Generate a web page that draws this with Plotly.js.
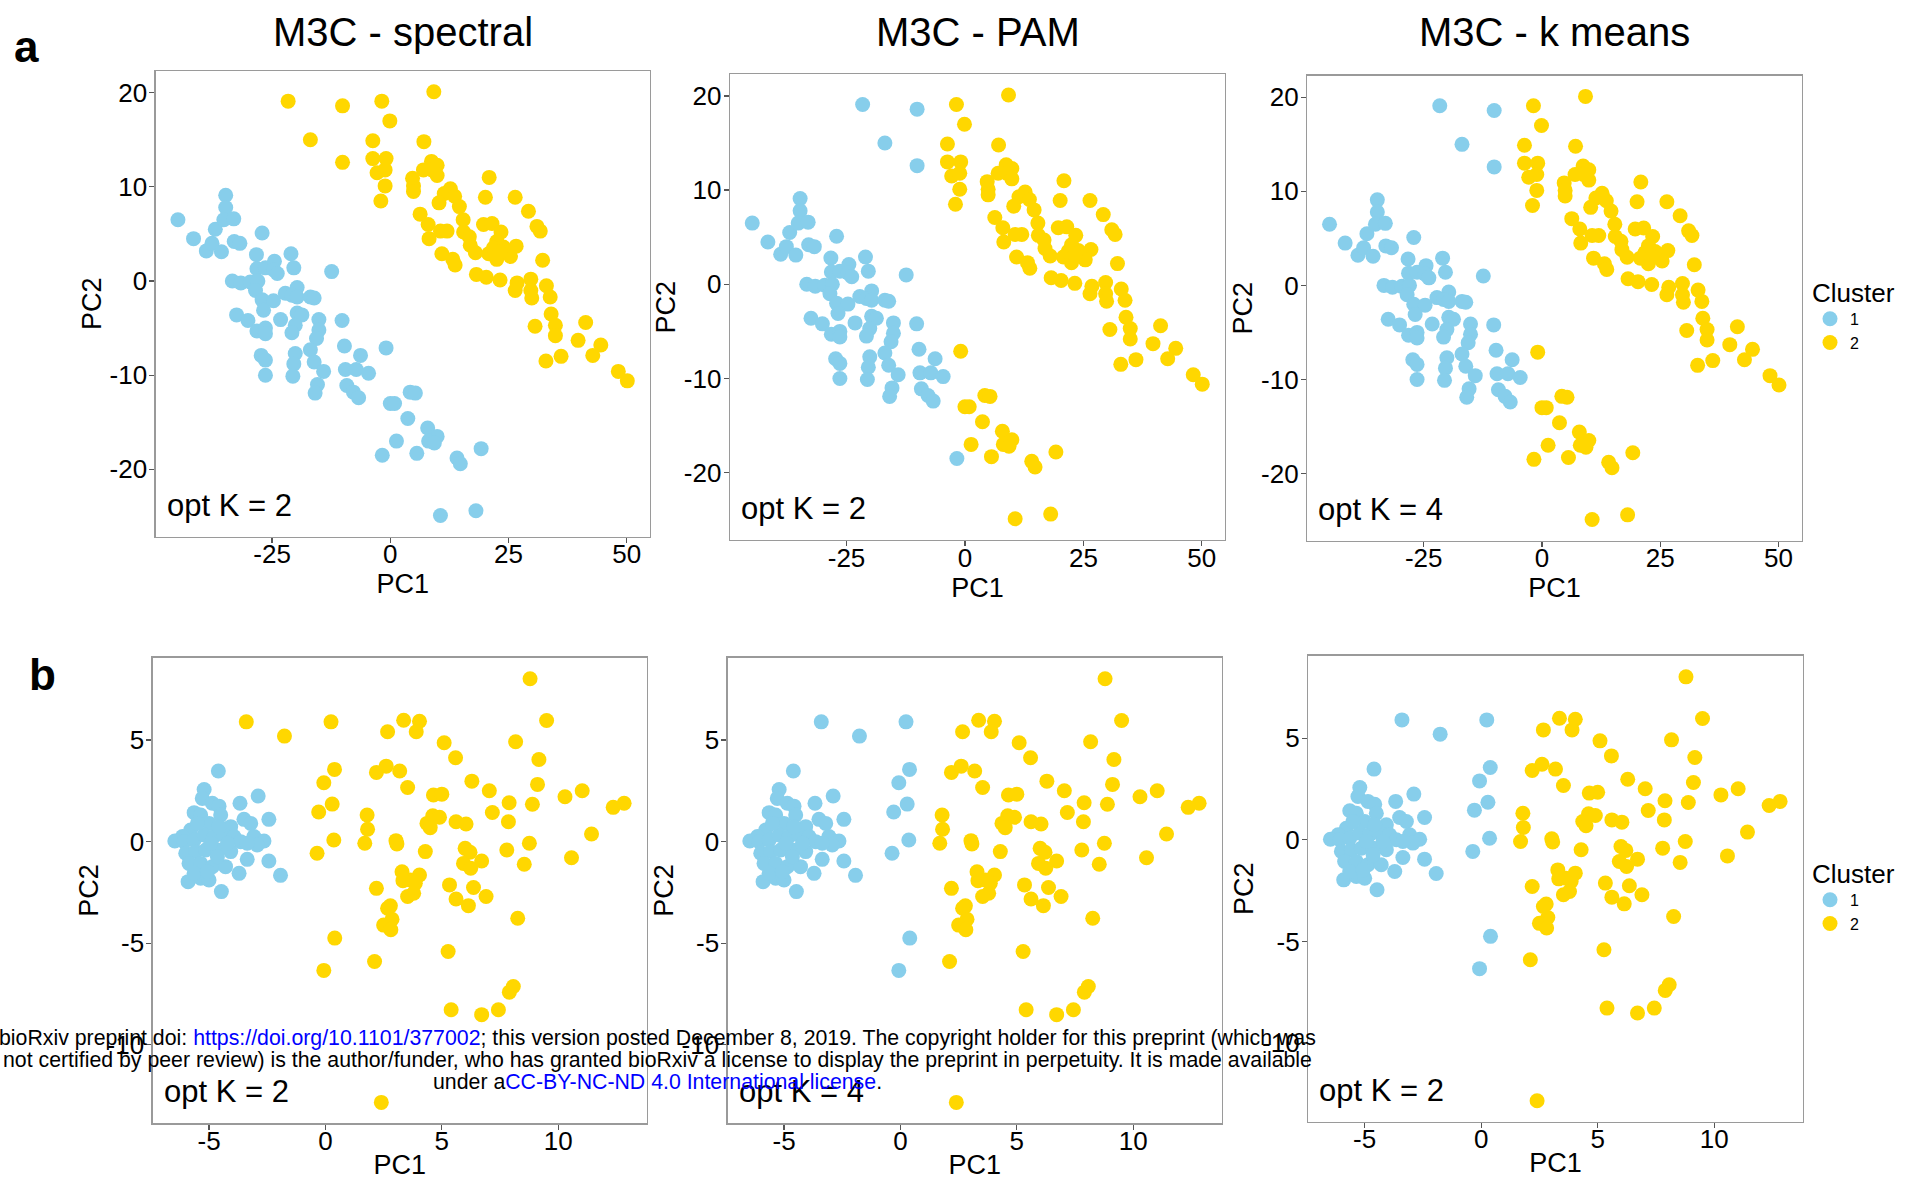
<!DOCTYPE html>
<html>
<head>
<meta charset="utf-8">
<script src="https://cdn.plot.ly/plotly-3.0.1.min.js"></script>
<style>html,body{margin:0;padding:0;background:#fff;}#chart{width:1928px;height:1190px;}</style>
</head>
<body>
<div id="chart"></div>
<script>
// ---------------- Row a data (PCA of dataset a) ----------------
// groups in order: B(69) L(17) P(1) U(4) Y(77)
const pcA_x = [
  // B
  -44.9,-41.6,-38.9,-37.7,-35.7,-37.0,-34.8,-34.8,-35.2,-33.1,
  -33.0,-31.8,-27.1,-28.3,-28.2,-26.4,-24.5,-24.7,-23.9,-21.0,
  -20.4,-12.4,-33.4,-31.6,-29.6,-28.0,-28.5,-27.1,-24.7,-26.8,
  -22.2,-19.7,-20.8,-19.7,-16.9,-16.1,-32.5,-30.1,-23.2,-19.7,
  -18.7,-20.1,-28.2,-26.4,-26.4,-20.8,-15.1,-15.1,-15.6,-16.9,
  -10.2,-9.7,-6.3,-27.3,-26.4,-20.1,-20.4,-16.1,-14.1,-26.4,
  -20.6,-9.5,-7.2,-4.6,-15.4,-15.9,-9.2,-7.8,-6.7,
  // L
  -0.9,4.2,5.3,0.0,0.9,3.7,7.9,9.9,8.1,9.3,
  1.3,5.6,14.1,14.8,19.2,10.6,18.1,
  // P
  -1.7,
  // U
  -21.6,-10.1,-16.9,-10.1,
  // Y
  -1.8,9.2,-0.1,-3.7,7.1,-3.7,-0.9,-2.8,-1.1,-1.1,
  -2.0,8.7,9.9,7.0,8.8,9.9,20.9,4.7,4.9,4.9,
  12.7,11.4,13.6,10.3,14.6,20.1,26.4,29.2,6.3,8.0,
  15.4,19.7,21.5,31.0,31.7,10.6,12.0,8.2,15.5,16.7,
  23.4,16.9,22.5,23.9,26.6,10.9,18.0,20.8,22.5,25.4,
  13.2,13.7,32.2,18.2,20.3,23.2,26.8,26.4,29.7,29.7,
  29.9,33.0,33.8,34.0,34.9,34.9,30.6,41.3,39.7,44.5,
  42.8,32.9,36.1,48.2,50.1,21.8,23.2
];
const pcA_y = [
  // B
  6.5,4.5,3.2,4.0,3.1,5.5,9.1,7.8,6.5,6.6,
  4.2,4.0,5.1,2.8,1.3,1.4,2.1,1.2,0.8,2.9,
  1.4,1.0,0.0,-0.2,-0.1,0.0,-1.0,-2.0,-2.1,-3.1,
  -1.3,-0.7,-1.5,-1.7,-1.7,-1.8,-3.6,-4.2,-4.1,-3.4,
  -3.6,-4.7,-5.3,-5.0,-5.6,-5.5,-4.1,-5.2,-6.1,-7.3,
  -4.2,-6.9,-7.9,-7.9,-8.4,-7.7,-8.8,-8.6,-9.6,-10.0,
  -10.1,-9.4,-9.4,-9.8,-11.0,-11.9,-11.1,-11.8,-12.4,
  // L
  -7.1,-11.8,-11.9,-13.0,-13.0,-14.6,-15.6,-16.5,-17.0,-17.2,
  -17.0,-18.3,-18.8,-19.4,-17.8,-24.9,-24.4,
  // P
  -18.5,
  // U
  19.1,18.6,15.0,12.6,
  // Y
  19.1,20.1,17.0,14.9,14.8,13.0,13.0,11.5,11.8,10.1,
  8.5,12.7,12.3,11.8,11.8,11.2,11.0,10.9,10.1,9.5,
  9.8,9.3,9.0,8.3,7.9,8.9,8.9,7.4,7.1,6.0,
  6.5,6.0,6.1,5.8,5.3,5.3,5.3,4.5,5.2,4.7,
  5.2,3.8,4.2,3.6,3.7,2.9,3.0,2.9,2.3,2.6,
  2.3,1.7,2.2,0.7,0.4,0.1,-0.2,-1.0,0.2,-1.0,
  -1.8,-0.5,-1.7,-3.5,-4.7,-5.8,-4.8,-4.4,-6.3,-6.8,
  -7.9,-8.5,-8.0,-9.6,-10.6,3.5,3.1
];
const clusterA_spectral = [
  1,1,1,1,1,1,1,1,1,1, 1,1,1,1,1,1,1,1,1,1, 1,1,1,1,1,1,1,1,1,1,
  1,1,1,1,1,1,1,1,1,1, 1,1,1,1,1,1,1,1,1,1, 1,1,1,1,1,1,1,1,1,1,
  1,1,1,1,1,1,1,1,1,
  1,1,1,1,1,1,1,1,1,1, 1,1,1,1,1,1,1,
  1,
  2,2,2,2,
  2,2,2,2,2,2,2,2,2,2, 2,2,2,2,2,2,2,2,2,2, 2,2,2,2,2,2,2,2,2,2,
  2,2,2,2,2,2,2,2,2,2, 2,2,2,2,2,2,2,2,2,2, 2,2,2,2,2,2,2,2,2,2,
  2,2,2,2,2,2,2,2,2,2, 2,2,2,2,2,2,2
];
const clusterA_pam = [
  1,1,1,1,1,1,1,1,1,1, 1,1,1,1,1,1,1,1,1,1, 1,1,1,1,1,1,1,1,1,1,
  1,1,1,1,1,1,1,1,1,1, 1,1,1,1,1,1,1,1,1,1, 1,1,1,1,1,1,1,1,1,1,
  1,1,1,1,1,1,1,1,1,
  2,2,2,2,2,2,2,2,2,2, 2,2,2,2,2,2,2,
  1,
  1,1,1,1,
  2,2,2,2,2,2,2,2,2,2, 2,2,2,2,2,2,2,2,2,2, 2,2,2,2,2,2,2,2,2,2,
  2,2,2,2,2,2,2,2,2,2, 2,2,2,2,2,2,2,2,2,2, 2,2,2,2,2,2,2,2,2,2,
  2,2,2,2,2,2,2,2,2,2, 2,2,2,2,2,2,2
];
const clusterA_kmeans = [
  1,1,1,1,1,1,1,1,1,1, 1,1,1,1,1,1,1,1,1,1, 1,1,1,1,1,1,1,1,1,1,
  1,1,1,1,1,1,1,1,1,1, 1,1,1,1,1,1,1,1,1,1, 1,1,1,1,1,1,1,1,1,1,
  1,1,1,1,1,1,1,1,1,
  2,2,2,2,2,2,2,2,2,2, 2,2,2,2,2,2,2,
  2,
  1,1,1,1,
  2,2,2,2,2,2,2,2,2,2, 2,2,2,2,2,2,2,2,2,2, 2,2,2,2,2,2,2,2,2,2,
  2,2,2,2,2,2,2,2,2,2, 2,2,2,2,2,2,2,2,2,2, 2,2,2,2,2,2,2,2,2,2,
  2,2,2,2,2,2,2,2,2,2, 2,2,2,2,2,2,2
];

// ---------------- Row b data (PCA of dataset b) ----------------
// groups in order: C(53) S(11) Y(76)
const pcB_x = [
  // C
  -4.60,-5.21,-5.29,-4.86,-4.57,-5.64,-5.36,-4.50,-3.67,-2.89,
  -2.43,-3.50,-3.21,-4.07,-5.00,-5.79,-6.14,-6.47,-6.07,-5.64,
  -5.21,-4.79,-4.36,-3.93,-3.64,-3.07,-2.64,-2.93,-3.36,-6.00,
  -5.57,-5.14,-4.64,-4.07,-5.86,-5.36,-4.86,-4.29,-3.36,-2.43,
  -3.71,-1.93,-5.90,-5.36,-5.00,-4.47,-5.64,-5.07,-4.64,-4.93,
  -5.50,-4.21,-4.57,
  // S
  -3.40,-1.76,0.24,0.39,-0.07,0.29,-0.29,0.36,-0.36,0.40,-0.07,
  // Y
  8.79,3.36,4.04,2.67,3.90,9.50,5.10,8.17,5.59,9.17,
  2.19,2.61,3.19,3.53,6.29,7.04,4.64,5.00,9.11,7.89,
  8.89,10.29,11.03,12.36,12.83,1.79,1.81,1.69,4.61,4.90,
  5.61,6.04,7.17,7.86,4.36,4.50,3.03,3.07,4.29,6.00,
  6.21,7.79,8.76,11.43,10.57,8.54,6.71,5.93,6.24,3.29,
  4.04,3.64,3.33,3.86,3.79,3.53,2.19,5.33,6.36,5.61,
  6.14,6.90,2.79,2.67,2.86,2.50,2.81,8.26,5.27,2.11,
  8.07,7.90,5.40,6.71,7.43,2.40
];
const pcB_y = [
  // C
  3.48,2.57,2.13,1.89,1.75,1.43,1.31,1.31,1.89,2.25,
  1.10,1.10,0.90,0.74,0.90,0.57,0.25,0.03,0.00,0.08,
  0.33,0.25,0.33,0.25,0.00,0.25,0.03,-0.16,-0.08,-0.57,
  -0.49,-0.41,-0.41,-0.49,-1.07,-1.07,-1.23,-1.23,-0.87,-0.95,
  -1.56,-1.66,-1.97,-1.80,-1.89,-2.46,-1.56,-1.48,-0.74,-0.08,
  0.90,-0.08,0.74,
  // S
  5.90,5.20,5.90,3.56,2.90,1.85,1.46,0.08,-0.57,-4.75,-6.34,
  // Y
  8.02,5.98,5.93,5.41,5.41,5.97,4.87,4.92,4.13,4.05,
  3.41,3.72,3.48,2.67,2.98,2.51,2.30,2.34,2.82,1.92,
  1.84,2.21,2.51,1.69,1.89,1.31,0.61,-0.08,1.28,1.20,
  0.98,0.87,1.44,0.98,0.90,0.69,0.05,-0.11,-0.49,-0.33,
  -0.52,-0.41,-0.08,0.38,-0.79,-1.11,-0.95,-1.07,-1.31,-1.48,
  -1.64,-1.89,-1.92,-2.05,-2.54,-2.70,-2.30,-2.13,-2.26,-2.82,
  -3.15,-2.70,-3.16,-3.28,-3.82,-4.11,-4.34,-3.77,-5.41,-5.90,
  -7.13,-7.41,-8.28,-8.52,-8.28,-12.84
];
const clusterB_spectral = [
  1,1,1,1,1,1,1,1,1,1, 1,1,1,1,1,1,1,1,1,1, 1,1,1,1,1,1,1,1,1,1,
  1,1,1,1,1,1,1,1,1,1, 1,1,1,1,1,1,1,1,1,1, 1,1,1,
  2,2,2,2,2,2,2,2,2,2,2,
  2,2,2,2,2,2,2,2,2,2, 2,2,2,2,2,2,2,2,2,2, 2,2,2,2,2,2,2,2,2,2,
  2,2,2,2,2,2,2,2,2,2, 2,2,2,2,2,2,2,2,2,2, 2,2,2,2,2,2,2,2,2,2,
  2,2,2,2,2,2,2,2,2,2, 2,2,2,2,2,2
];
const clusterB_pam = [
  1,1,1,1,1,1,1,1,1,1, 1,1,1,1,1,1,1,1,1,1, 1,1,1,1,1,1,1,1,1,1,
  1,1,1,1,1,1,1,1,1,1, 1,1,1,1,1,1,1,1,1,1, 1,1,1,
  1,1,1,1,1,1,1,1,1,1,1,
  2,2,2,2,2,2,2,2,2,2, 2,2,2,2,2,2,2,2,2,2, 2,2,2,2,2,2,2,2,2,2,
  2,2,2,2,2,2,2,2,2,2, 2,2,2,2,2,2,2,2,2,2, 2,2,2,2,2,2,2,2,2,2,
  2,2,2,2,2,2,2,2,2,2, 2,2,2,2,2,2
];
const clusterB_kmeans = [
  1,1,1,1,1,1,1,1,1,1, 1,1,1,1,1,1,1,1,1,1, 1,1,1,1,1,1,1,1,1,1,
  1,1,1,1,1,1,1,1,1,1, 1,1,1,1,1,1,1,1,1,1, 1,1,1,
  1,1,1,1,1,1,1,1,1,1,1,
  2,2,2,2,2,2,2,2,2,2, 2,2,2,2,2,2,2,2,2,2, 2,2,2,2,2,2,2,2,2,2,
  2,2,2,2,2,2,2,2,2,2, 2,2,2,2,2,2,2,2,2,2, 2,2,2,2,2,2,2,2,2,2,
  2,2,2,2,2,2,2,2,2,2, 2,2,2,2,2,2
];

// ---------------- Labels ----------------
const panelTitles = ["M3C - spectral", "M3C - PAM", "M3C - k means"];
const optK_a = [2, 2, 4];
const optK_b = [2, 4, 2];
const clusterNames = ["1", "2"];
const tickValsAx = [-25, 0, 25, 50];
const tickTextAx = ["-25", "0", "25", "50"];
const tickValsAy = [-20, -10, 0, 10, 20];
const tickTextAy = ["-20", "-10", "0", "10", "20"];
const tickValsBx = [-5, 0, 5, 10];
const tickTextBx = ["-5", "0", "5", "10"];
const tickValsBy = [-10, -5, 0, 5];
const tickTextBy = ["-10", "-5", "0", "5"];

// ---------------- Styling ----------------
const FONT = '"Liberation Sans", Arial, Helvetica, sans-serif';
const COLORS = {1: '#87CEEB', 2: '#FFD700'};
const W = 1928, H = 1190;
const px = v => v / W;
const py = v => 1 - v / H;

// panel boxes in pixels [left, right, top, bottom]
const boxes = [
  [155.7, 650, 71, 536.7],
  [730, 1225, 74.3, 540],
  [1307.3, 1801.7, 75.7, 540.7],
  [152.7, 646.7, 657.7, 1123.3],
  [727.7, 1221.7, 657.7, 1123.3],
  [1308.3, 1802.7, 655.7, 1121.7]
];
const rangeAx = [-49.6, 54.9], rangeAy = [-27.15, 22.3];
const rangeBx = [-7.42, 13.8], rangeBy = [-13.87, 9.06];

function panelTraces(xs, ys, clusters, n, legendName, showLegend) {
  const suffix = n === 1 ? '' : String(n);
  return [1, 2].map(k => {
    const xx = [], yy = [];
    clusters.forEach((c, i) => { if (c === k) { xx.push(xs[i]); yy.push(ys[i]); } });
    return {
      type: 'scatter', mode: 'markers', x: xx, y: yy,
      xaxis: 'x' + suffix, yaxis: 'y' + suffix,
      name: clusterNames[k - 1], legend: legendName, showlegend: showLegend,
      legendgroup: legendName + k,
      marker: {color: COLORS[k], size: 15, line: {width: 0}},
      hoverinfo: 'x+y'
    };
  });
}

const data = [].concat(
  panelTraces(pcA_x, pcA_y, clusterA_spectral, 1, 'legend', true),
  panelTraces(pcA_x, pcA_y, clusterA_pam, 2, 'legend', false),
  panelTraces(pcA_x, pcA_y, clusterA_kmeans, 3, 'legend', false),
  panelTraces(pcB_x, pcB_y, clusterB_spectral, 4, 'legend2', true),
  panelTraces(pcB_x, pcB_y, clusterB_pam, 5, 'legend2', false),
  panelTraces(pcB_x, pcB_y, clusterB_kmeans, 6, 'legend2', false)
);

function axisCommon() {
  return {
    showgrid: false, zeroline: false, showline: true, mirror: true,
    linecolor: '#9a9a9a', linewidth: 1.4,
    ticks: 'outside', ticklen: 5, tickwidth: 1.3, tickcolor: '#555555',
    tickfont: {family: FONT, size: 26, color: '#000'},
    tickmode: 'array', fixedrange: true
  };
}

const legendCommon = {
  x: px(1810), xanchor: 'left', yanchor: 'top',
  title: {text: 'Cluster', font: {family: FONT, size: 26, color: '#000'}},
  font: {family: FONT, size: 16, color: '#000'},
  bgcolor: 'rgba(0,0,0,0)', borderwidth: 0, itemwidth: 30, tracegroupgap: 0,
  itemsizing: 'trace'
};

const layout = {
  width: W, height: H,
  margin: {l: 0, r: 0, t: 0, b: 0},
  paper_bgcolor: '#ffffff', plot_bgcolor: '#ffffff',
  font: {family: FONT, color: '#000'},
  showlegend: true,
  legend: Object.assign({}, legendCommon, {y: py(268)}),
  legend2: Object.assign({}, legendCommon, {y: py(849)}),
  annotations: []
};

boxes.forEach((b, i) => {
  const n = i + 1;
  const suffix = n === 1 ? '' : String(n);
  const isA = i < 3;
  const xa = Object.assign(axisCommon(), {
    domain: [px(b[0]), px(b[1])], anchor: 'y' + suffix,
    range: isA ? rangeAx : rangeBx,
    tickvals: isA ? tickValsAx : tickValsBx,
    ticktext: isA ? tickTextAx : tickTextBx,
    ticklabelstandoff: -11,
    title: {text: 'PC1', font: {family: FONT, size: 27, color: '#000'}, standoff: 0}
  });
  const ya = Object.assign(axisCommon(), {
    domain: [py(b[3]), py(b[2])], anchor: 'x' + suffix,
    range: isA ? rangeAy : rangeBy,
    tickvals: isA ? tickValsAy : tickValsBy,
    ticktext: isA ? tickTextAy : tickTextBy,
    ticklabelstandoff: -3,
    title: {text: 'PC2', font: {family: FONT, size: 27, color: '#000'}, standoff: 0}
  });
  layout['xaxis' + suffix] = xa;
  layout['yaxis' + suffix] = ya;
  const k = isA ? optK_a[i] : optK_b[i - 3];
  layout.annotations.push({
    xref: 'x' + suffix + ' domain', yref: 'y' + suffix + ' domain',
    x: 0.018, y: 0.068, xanchor: 'left', yanchor: 'middle',
    text: 'opt K = ' + k, showarrow: false,
    font: {family: FONT, size: 31, color: '#000'}
  });
  if (isA) {
    layout.annotations.push({
      xref: 'paper', yref: 'paper', x: px((b[0] + b[1]) / 2), y: py(31.5),
      xanchor: 'center', yanchor: 'middle', text: panelTitles[i], showarrow: false,
      font: {family: FONT, size: 40, color: '#000'}
    });
  }
});

// panel letters
layout.annotations.push({xref: 'paper', yref: 'paper', x: px(12), y: py(47), xanchor: 'left', yanchor: 'middle',
  text: '<b>a</b>', showarrow: false, font: {family: FONT, size: 44, color: '#000'}});
layout.annotations.push({xref: 'paper', yref: 'paper', x: px(27), y: py(674), xanchor: 'left', yanchor: 'middle',
  text: '<b>b</b>', showarrow: false, font: {family: FONT, size: 44, color: '#000'}});

// bioRxiv notice overlay
const noticeLines = [
  'bioRxiv preprint doi: <span style="color:#0000ff">https://doi.org/10.1101/377002</span>; this version posted December 8, 2019. The copyright holder for this preprint (which was',
  'not certified by peer review) is the author/funder, who has granted bioRxiv a license to display the preprint in perpetuity. It is made available',
  'under a<span style="color:#0000ff">CC-BY-NC-ND 4.0 International license</span>.'
];
const noticeY = [1038, 1060, 1082];
noticeLines.forEach((t, i) => {
  layout.annotations.push({xref: 'paper', yref: 'paper', x: px(657), y: py(noticeY[i]),
    xanchor: 'center', yanchor: 'middle', text: t, showarrow: false,
    font: {family: FONT, size: 21.3, color: '#000'}});
});

Plotly.newPlot('chart', data, layout, {staticPlot: true, displayModeBar: false});
</script>
</body>
</html>
